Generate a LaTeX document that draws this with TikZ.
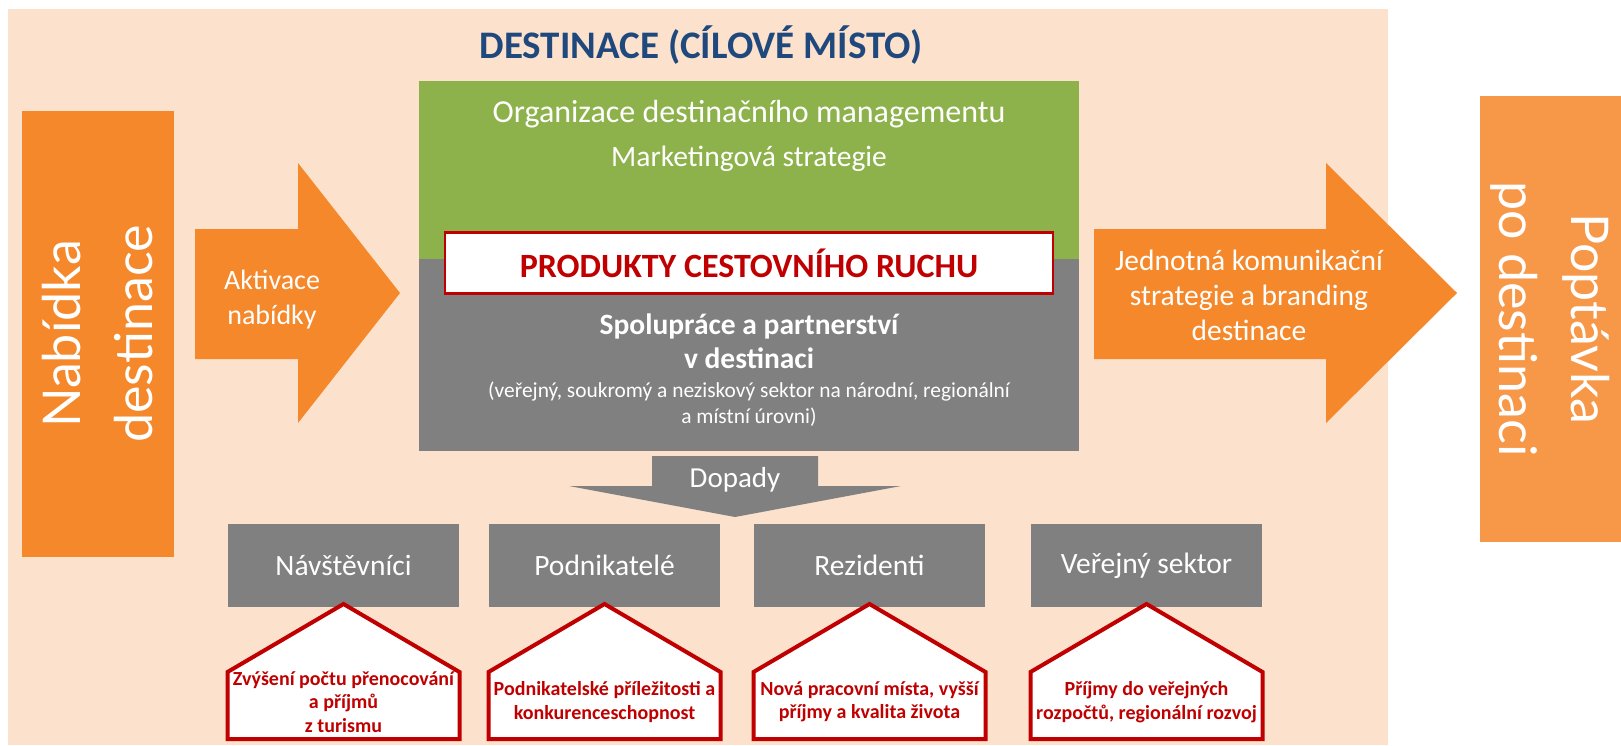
\documentclass[tikz,border=0pt]{standalone}
\usepackage{fontspec}
\setmainfont{Carlito}
\newfontfamily\sidefont{Lato}
\usetikzlibrary{positioning, calc}

\definecolor{peach}{RGB}{252,225,205}
\definecolor{supplyorange}{RGB}{245,136,42}
\definecolor{demandorange}{RGB}{247,151,72}
\definecolor{dmogreen}{RGB}{142,178,75}
\definecolor{boxgrey}{RGB}{128,128,128}
\definecolor{prodred}{RGB}{192,0,0}
\definecolor{titleblue}{RGB}{31,73,125}

\begin{document}
\begin{tikzpicture}[x=1pt, y=-1pt, every node/.style={inner sep=0pt, outer sep=0pt},
			sidebox/.style={text=white, align=center,
						font=\sidefont\fontsize{52}{72}\selectfont},
			greybox/.style={fill=boxgrey, text=white, minimum width=231, minimum height=83,
						font=\fontsize{29.5}{35}\selectfont},
			housebox/.style={draw=prodred, fill=white, line width=4},
			housetext/.style={text=prodred, align=center,
						font=\bfseries\fontsize{20}{23.5}\selectfont},
			arrowtext/.style={text=white, align=center,
						font=\fontsize{28}{35}\selectfont}]

			\useasboundingbox (0,0) rectangle (1621,745);

			% Destination background
			\fill[peach] (8,9) rectangle (1388,745);
			\node (title) [text=titleblue, font=\bfseries\fontsize{39}{46}\selectfont] at (701,45)
				{DESTINACE (CÍLOVÉ MÍSTO)};

			% Supply and demand
			\node (nabidka) [sidebox, fill=supplyorange, rotate=90, minimum width=446,
				minimum height=152] at (98,334) {Nabídka\\destinace};
			\node (poptavka) [sidebox, fill=demandorange, rotate=-90, minimum width=446,
				minimum height=141] at (1550.5,319) {Poptávka\\po destinaci};

			% Big arrows
			\fill[supplyorange] (195,229) -- (298,229) -- (298,163) -- (400,293)
				-- (298,423) -- (298,359) -- (195,359) -- cycle;
			\node (aktivace) [arrowtext] at (272,300) {Aktivace\\nabídky};
			\fill[supplyorange] (1094,229) -- (1326,229) -- (1326,163) -- (1457,293)
				-- (1326,423) -- (1326,359) -- (1094,359) -- cycle;
			\node (branding) [arrowtext, font=\fontsize{29.5}{35}\selectfont] at (1249,295)
				{Jednotná komunikační\\strategie a branding\\destinace};

			% Management and cooperation
			\node (dmo) [fill=dmogreen, minimum width=660, minimum height=178, anchor=north west]
				at (419,81) {};
			\node (coop) [fill=boxgrey, minimum width=660, minimum height=192, anchor=north]
				at (dmo.south) {};
			\node (org) [text=white, font=\fontsize{32}{38}\selectfont] at (749,114)
				{Organizace destinačního managementu};
			\node (marketing) [text=white, font=\fontsize{29.5}{35}\selectfont] at (749,159)
				{Marketingová strategie};
			\node (produkty) [draw=prodred, line width=2.5, fill=white, text=prodred,
				minimum width=608, minimum height=61, font=\bfseries\fontsize{34}{40}\selectfont]
				at (749,263) {PRODUKTY CESTOVNÍHO RUCHU};
			\node (spoluprace) [text=white, align=center, font=\bfseries\fontsize{29.5}{34}\selectfont]
				at (749,341) {Spolupráce a partnerství\\v destinaci};
			\node (sektory) [text=white, align=center, font=\fontsize{21.4}{26}\selectfont]
				at (749,404) {(veřejný, soukromý a neziskový sektor na národní, regionální\\a místní úrovni)};

			% Impacts
			\fill[boxgrey] (652,456) -- (818,456) -- (818,486) -- (901,486) -- (735,517)
				-- (569,486) -- (652,486) -- cycle;
			\node (dopady) [text=white, font=\fontsize{29}{35}\selectfont] at (735,480) {Dopady};

			\node (navst) [greybox] at (343.5,565.5) {Návštěvníci};
			\node (podnik) [greybox, right=30 of navst] {Podnikatelé};
			\node (rezid) [greybox, right=34 of podnik] {Rezidenti};
			\node (verej) [greybox, right=46 of rezid] {Veřejný sektor};

			\foreach \b/\txt in {navst/{Zvýšení počtu přenocování\\a příjmů\\z turismu},
					podnik/{Podnikatelské příležitosti a\\konkurenceschopnost},
					rezid/{Nová pracovní místa, vyšší\\příjmy a kvalita života},
					verej/{Příjmy do veřejných\\rozpočtů, regionální rozvoj}} {
				\draw[housebox] ($(\b.south)+(0,-3)$) -- ++(116,68) -- ++(0,67) -- ++(-232,0)
					-- ++(0,-67) -- cycle;
				\node (\b-effect) [housetext] at ($(\b.south)+(0,95)$) {\txt};
			}

		\end{tikzpicture}
\end{document}
